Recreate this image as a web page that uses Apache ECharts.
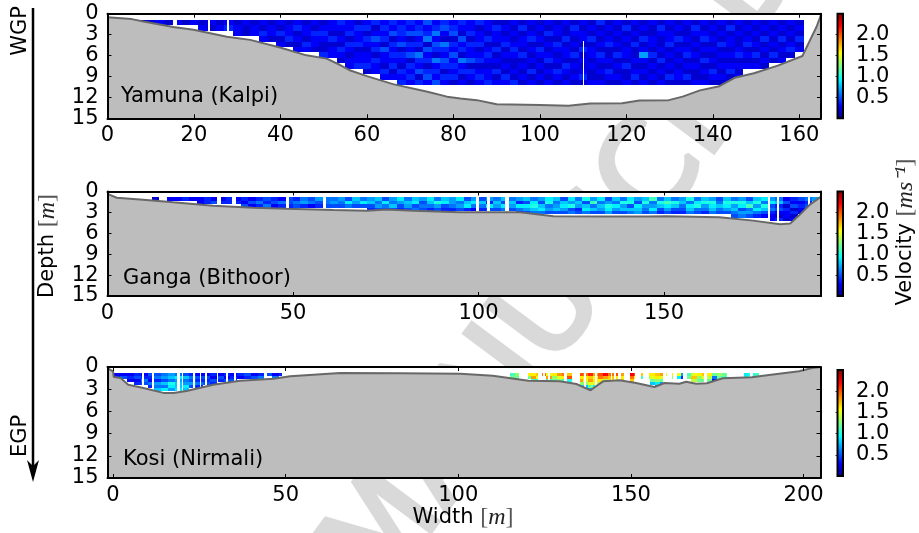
<!DOCTYPE html>
<html><head><meta charset="utf-8">
<style>html,body{margin:0;padding:0;background:#fff}#c{width:919px;height:533px}</style>
<script src="https://cdn.jsdelivr.net/npm/echarts@6/dist/echarts.min.js"></script>
</head><body><div id="c"></div>
<script>
// Bed profiles: [width m, depth m]
const yamunaBed=[[0,.5],[5.6,.77],[8.3,1.1],[15.2,1.9],[19.9,2.3],[27.6,3.3],[33,3.75],[39.9,4.85],[46,5.97],[50.7,6.44],[53.8,7.36],[56,8.1],[60,8.95],[66,10.1],[74,11.2],[78.5,11.9],[81.6,12.15],[85.4,12.4],[90,13],[100,13.1],[106.6,13.2],[111.6,12.9],[119,12.85],[123,12.45],[129.8,12.4],[133,11.9],[137,11],[141.5,10.4],[145,9.2],[149.5,8.55],[155,7.45],[160.7,6.06],[162.3,4],[164,1.83],[165,.15]];
const gangaBed=[[0,.35],[2.5,.89],[9.6,1.17],[17.7,1.55],[28.5,2.03],[39.3,2.32],[48.3,2.47],[60.9,2.65],[69.9,2.75],[75.2,2.6],[82.4,2.75],[95,2.98],[104,2.98],[111.2,2.98],[120.2,3.56],[133.7,3.6],[145.4,3.6],[150.7,3.56],[165,3.7],[174,4.18],[181.3,4.7],[184,4.6],[186.7,3.28],[189.4,1.84],[192.3,.74]];
const kosiBed=[[-1.6,.14],[0,.58],[.2,1.35],[2.2,1.49],[4.4,2.39],[8.8,2.84],[14.6,3.5],[17.5,3.5],[21.3,3.24],[29,2.39],[36.8,1.85],[46.5,1.58],[51.3,1.26],[65.8,.81],[83,.85],[100.6,.9],[110,1.18],[120.3,1.85],[129.4,1.94],[134.2,2.3],[138.3,3.15],[141.9,1.94],[146.7,1.8],[151.5,2.16],[156.8,2.7],[159.7,2.16],[164,2.26],[166,1.99],[168.9,2.26],[172,2.2],[176.6,1.53],[185,1.39],[190,1.08],[198.7,.58],[202.5,.14],[204.9,0]];
// Velocity columns, top to bottom; each character is m/s x 10 in base 36 (a=1.0, k=2.0)
const yamunaCols=["2","2","3","2","3","2","3","23","32","23","34","233","322","233","3243","2332","32423","23342","342323","233243","324332","2343224","3324233","43232432","334243233","243342334","3424323342","4235342433","34342533243","43524343423","344352432434","435243524343","345342643524","534625342453","346354263435","453264354243","345243534342","432534263423","334243352432","423342342343","332423432334","243324232423","232342323243","323234322324","242332423232","323423232423","232324323232","324232342323","233243232432","322423324323","243232423232","323324232342","232423323223","423232432323","232342232432","323232423232","242323324223","323242232342","232423732323","322332423232","243223242323","323342323242","232423232332","322323423242","243232323223","323423242323","232323232432","323242323232","242332323423","323223423232","232342323","323232423","232423232","32323242","23242323","3232342","232423"];
const gangaCols=["2","","3","3","4","3","33","44","35","34","44","34","435","353","464","546","453","364","554","465","674","563","754","665","675","765","596","875","695","7854","8675","5965","7685","9754","6875","8956","7565","9864","6a75","8954","7764","9675","5894","7963","5864","7495","6875","8596","6875","74964","85975","69a86","75896","9a675","86785","58975","97a56","68745","a5896","7b685","96875","57a97","86975","6a785","9a586","75987","8a765","b6796","6a854","8b975","6a854","78654","a6986","69a65","8a764","7a986","56865","8a975","6a7865","7a9576","58b675","8a7964","96a853","7956433","6845324","3524332","4352423","53432","645","7"];
const kosiLeftCols=["34","35","343","4534","3465","54364","564768","675869","786a97","697889","586798","46575","35464","3545","4354","354","435","345","43","54","35","46","5","36","4"];
const kosiRightCols=["bc","dc","","gc","gib","hfa","j","fib","gdc","ifd","jgb","hka","","kgida","jgfd8","lhifc7","ifgf96","kjge","miec","jhg","kgf","igh","","mjh","kg","hb","gd","gfc8","hgd96","ifc74","f","gd","f9","74","bc","fhe","gdc","hfc","gec","c63","dc","cb","","","","9a","ab","b"];
// Empty vertical strips in the records: [from m, to m, depth from, depth to]
const yamunaGaps=[[15.2,16,0,3],[23.3,23.8,0,4],[27.7,28.2,0,5],[109.9,110.3,3.9,11]];
const gangaGaps=[[29.5,30.5,0,5],[33.5,34.6,0,5],[48,49,0,5],[58,58.8,0,5],[99.3,100.2,0,5],[102.2,103.1,0,5],[107,108.2,0,5],[178,178.5,0,6],[180.5,181,0,6],[188.7,189.3,0,5]];
const kosiGaps=[[8.5,9,0,5],[11.3,11.8,0,5],[18.6,19.3,0,5],[19.9,20.4,0,5],[23.2,23.7,0,5],[25.1,25.6,0,5],[26.7,27.2,0,5],[30,30.5,0,5],[32.8,33.3,0,5],[35,35.5,0,5],[43.8,44.5,0,3],[48.9,50.5,0,3],
 [117.6,120.1,0,4],[123,124.3,0,4],[124.6,125,0,4],[125.9,126.5,0,4],[130.6,131.5,0,4],[133.2,135.2,0,4],[136.4,137.1,0,4],[139.7,140.2,0,4],[144.1,144.6,0,4],[145.1,145.8,0,4],[146.2,147,0,4],[148.1,149.7,0,4],[151.3,152.8,0,4],[153.5,155.1,0,4],[159.3,160.2,0,4],[160.5,161.8,0,4],[162.1,163.4,0,4],[165.1,166.3,0,4],[171.3,171.9,0,4],[177.9,182.7,0,4],[184.5,185.3,0,4]];
const depthTicks=[0,3,6,9,12,15];
const velocityTicks=[.5,1,1.5,2];
const yamunaWidthTicks=[0,20,40,60,80,100,120,140,160];
const gangaWidthTicks=[0,50,100,150];
const kosiWidthTicks=[0,50,100,150,200];
const riverNames=["Yamuna (Kalpi)","Ganga (Bithoor)","Kosi (Nirmali)"];

const FONT='DejaVu Sans',FS=21,INK='#000';
function jet(v){const t=v/2.5,c=k=>Math.round(255*Math.max(0,Math.min(1,1.5-Math.abs(4*t-k))));return `rgb(${c(3)},${c(2)},${c(1)})`;}
function cells(cols,x0,dx,d0,dd){const out=[];cols.forEach((s,i)=>{[...s].forEach((ch,j)=>{out.push([x0+dx*i,x0+dx*(i+1),d0+dd*j,d0+dd*(j+1),parseInt(ch,36)/10]);});});return out;}
function rectItem(fill){return function(p,api){const a=api.coord([api.value(0),api.value(2)]),b=api.coord([api.value(1),api.value(3)]);
  const x=Math.round(a[0]),y=Math.round(a[1]);
  return {type:'rect',shape:{x,y,width:Math.round(b[0])-x,height:Math.round(b[1])-y},style:{fill:fill?fill:jet(api.value(4))}};};}
const panels=[
 {top:13.75,h:104.5,left:107.5,w:713.5,min:0,max:165,ticks:yamunaWidthTicks,bed:yamunaBed,cells:cells(yamunaCols,7,2,.87,.78),gaps:yamunaGaps},
 {top:191.5,h:104.5,left:107.5,w:713.5,min:0,max:192.3,ticks:gangaWidthTicks,bed:gangaBed,cells:cells(gangaCols,12,2,.8,.5),gaps:gangaGaps},
 {top:367,h:111,left:107.5,w:713,min:-1.6,max:204.9,ticks:kosiWidthTicks,bed:kosiBed,cells:cells(kosiLeftCols,0,2,.8,.4).concat(cells(kosiRightCols,115,1.5,.8,.4)),gaps:kosiGaps}
];
const bars=[{top:13.75,h:104.5},{top:191.5,h:104.5},{top:370,h:106}];
const grid=[],xAxis=[],yAxis=[],series=[];
const line={show:true,onZero:false,lineStyle:{color:INK,width:2}};
const labelBase={color:INK,fontFamily:FONT,fontSize:FS,showMinLabel:true,showMaxLabel:true,hideOverlap:false};
panels.forEach(p=>{
  const g=grid.length;grid.push({left:p.left,top:p.top,width:p.w,height:p.h,show:true,backgroundColor:'#fff',borderWidth:0,z:1});
  const xi=xAxis.length,yi=yAxis.length;
  const tick={show:true,inside:true,length:4,lineStyle:{color:INK,width:1}};
  xAxis.push({type:'value',gridIndex:g,min:p.min,max:p.max,position:'bottom',z:6,axisLine:line,splitLine:{show:false},
    axisTick:{...tick,customValues:p.ticks},axisLabel:{...labelBase,customValues:p.ticks,margin:7}});
  xAxis.push({type:'value',gridIndex:g,min:p.min,max:p.max,position:'top',z:6,axisLine:line,splitLine:{show:false},
    axisTick:{...tick,customValues:p.ticks},axisLabel:{show:false}});
  const yBase={type:'value',gridIndex:g,min:0,max:15,inverse:true,z:6,axisLine:line,splitLine:{show:false}};
  yAxis.push(Object.assign({},yBase,{position:'left',axisTick:{...tick,customValues:depthTicks},axisLabel:{...labelBase,customValues:depthTicks,margin:9}}));
  yAxis.push(Object.assign({},yBase,{position:'right',axisTick:{...tick,customValues:depthTicks},axisLabel:{show:false}}));
  series.push({type:'custom',xAxisIndex:xi,yAxisIndex:yi,z:2,silent:true,animation:false,clip:true,data:p.cells,encode:{x:[0,1],y:[2,3]},renderItem:rectItem()});
  series.push({type:'custom',xAxisIndex:xi,yAxisIndex:yi,z:3,silent:true,animation:false,clip:true,data:p.gaps,encode:{x:[0,1],y:[2,3]},renderItem:rectItem('#fff')});
  series.push({type:'line',xAxisIndex:xi,yAxisIndex:yi,z:4,silent:true,animation:false,symbol:'none',data:p.bed,lineStyle:{color:'#686868',width:2},areaStyle:{color:'#bdbdbd',opacity:1,origin:'end'}});
});
const stops=[];for(let i=0;i<=32;i++)stops.push({offset:i/32,color:jet(2.5*i/32)});
bars.forEach(b=>{
  const g=grid.length;grid.push({left:837.5,top:b.top,width:5.5,height:b.h});
  const xi=xAxis.length,yi=yAxis.length;
  xAxis.push({type:'value',gridIndex:g,min:0,max:1,show:false});
  yAxis.push({type:'value',gridIndex:g,min:0,max:2.5,position:'right',z:6,axisLine:{show:false},splitLine:{show:false},
    axisTick:{show:true,inside:true,length:2,customValues:velocityTicks,lineStyle:{color:'#222',width:1}},
    axisLabel:{...labelBase,customValues:velocityTicks,margin:13,formatter:v=>v.toFixed(1)}});
  series.push({type:'custom',xAxisIndex:xi,yAxisIndex:yi,z:2,silent:true,animation:false,clip:false,data:[[0,1,2.5,0]],encode:{x:[0,1],y:[2,3]},
    renderItem:(p,api)=>{const a=api.coord([0,2.5]),c=api.coord([1,0]);return {type:'rect',shape:{x:a[0],y:a[1],width:c[0]-a[0],height:c[1]-a[1]},
      style:{fill:new echarts.graphic.LinearGradient(0,1,0,0,stops),stroke:'#000',lineWidth:2}};}});
});
const txt=(x,y,text,extra)=>({type:'text',x,y,z:20,silent:true,...extra,style:Object.assign({text,fill:INK,font:`${FS}px "${FONT}"`,align:'left',verticalAlign:'middle'},(extra&&extra.style)||{})});
const mathRich={i:{fontFamily:'Liberation Serif',fontStyle:'italic',fontSize:24,fill:'#222'},b:{fontFamily:'Liberation Serif',fontSize:24,fill:'#555'}};
const chart=echarts.init(document.getElementById('c'),null,{renderer:'canvas'});
chart.setOption({animation:false,backgroundColor:'#fff',grid,xAxis,yAxis,series,graphic:{elements:[
  {type:'text',x:600,y:250,rotation:.93,z:-5,silent:true,style:{text:'MANUSCRIPT',fill:'#d9d9d9',stroke:'#d9d9d9',lineWidth:5,font:'125px "DejaVu Sans"',align:'center',verticalAlign:'middle'}},
  txt(121,97,riverNames[0]),txt(123,279,riverNames[1]),txt(123,460,riverNames[2]),
  {type:'line',z:20,silent:true,shape:{x1:33,y1:8,x2:33,y2:470},style:{stroke:'#000',lineWidth:2.5}},
  {type:'polygon',z:20,silent:true,shape:{points:[[27,460],[33,466],[39,460],[33,482]]},style:{fill:'#000'}},
  txt(21,31,'WGP',{rotation:Math.PI/2,style:{align:'center'}}),
  txt(21,436,'EGP',{rotation:Math.PI/2,style:{align:'center'}}),
  {type:'text',x:48,y:246,z:20,silent:true,rotation:Math.PI/2,style:{text:'Depth {b|[}{i|m}{b|]}',rich:mathRich,fill:INK,font:`${FS}px "${FONT}"`,align:'center',verticalAlign:'middle'}},
  {type:'text',x:463,y:518,z:20,silent:true,style:{text:'Width {b|[}{i|m}{b|]}',rich:mathRich,fill:INK,font:`${FS}px "${FONT}"`,align:'center',verticalAlign:'middle'}},
  {type:'text',x:906,y:232,z:20,silent:true,rotation:Math.PI/2,style:{text:'Velocity {b|[}{i|ms⁻¹}{b|]}',rich:mathRich,fill:INK,font:`${FS}px "${FONT}"`,align:'center',verticalAlign:'middle'}}
]}});
</script></body></html>
